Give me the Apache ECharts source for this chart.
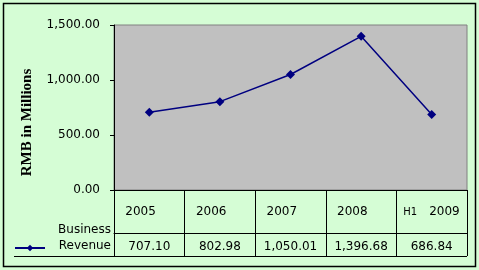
<!DOCTYPE html>
<html>
<head>
<meta charset="utf-8">
<script src="https://cdn.jsdelivr.net/npm/echarts@6/dist/echarts.min.js"></script>
<style>
html,body{margin:0;padding:0;background:#ffffff;}
#c{width:479px;height:270px;}
</style>
</head>
<body>
<div id="c"></div>
<script>
const categories = ['2005', '2006', '2007', '2008', 'H1 2009'];
const revenue = [707.10, 802.98, 1050.01, 1396.68, 686.84];
const yTicks = { min: 0, max: 1500, interval: 500 };
const seriesName = 'Business Revenue';
const yTitle = 'RMB in Millions';

const fmt = v => Number(v).toLocaleString('en-US', { minimumFractionDigits: 2, maximumFractionDigits: 2 });
const FONT = 'DejaVu Sans';

const chart = echarts.init(document.getElementById('c'), null, { renderer: 'canvas' });
chart.setOption({
  backgroundColor: '#D5FDD5',
  animation: false,
  grid: {
    left: 114, top: 25, width: 353, height: 165,
    show: true, backgroundColor: '#C0C0C0', borderColor: '#808080', borderWidth: 1
  },
  legend: {
    left: 14, top: 224, padding: 0,
    itemWidth: 30, itemHeight: 8,
    data: [seriesName],
    formatter: () => '{a|Business}\n{a|Revenue}',
    textStyle: {
      fontFamily: FONT, fontSize: 12, color: '#000', padding: [0, 0, 20, 0],
      rich: { a: { fontFamily: FONT, fontSize: 12, color: '#000', width: 61, align: 'right', lineHeight: 16 } }
    }
  },
  xAxis: [
    {
      type: 'category', data: categories, boundaryGap: true, position: 'bottom',
      axisLine: { show: true, lineStyle: { color: '#000', width: 1 } },
      axisTick: { show: true, interval: 0, length: 66, lineStyle: { color: '#000', width: 1 } },
      axisLabel: {
        interval: 0, margin: 16, color: '#000', fontFamily: FONT, fontSize: 12,
        formatter: v => v.startsWith('H1') ? '{s|H1}{b|' + v.slice(3) + '}' : '{a|' + v + '}',
        rich: {
          a: { fontFamily: FONT, fontSize: 12, color: '#000', width: 48, align: 'left' },
          s: { fontFamily: FONT, fontSize: 10, color: '#000', width: 26, align: 'left' },
          b: { fontFamily: FONT, fontSize: 12, color: '#000', width: 31, align: 'left' }
        },
        align: 'center'
      },
      splitLine: { show: false }
    },
    {
      type: 'category', data: revenue.map(fmt), boundaryGap: true, position: 'bottom', offset: 43,
      axisLine: { show: true, lineStyle: { color: '#000', width: 1 } },
      axisTick: { show: false },
      axisLabel: { interval: 0, margin: 8, color: '#000', fontFamily: FONT, fontSize: 12 },
      splitLine: { show: false }
    }
  ],
  yAxis: {
    type: 'value', min: yTicks.min, max: yTicks.max, interval: yTicks.interval,
    name: yTitle, nameLocation: 'middle', nameRotate: 90, nameGap: 79, nameMoveOverlap: false,
    nameTextStyle: { fontFamily: 'Liberation Serif', fontWeight: 'bold', fontSize: 15, color: '#000', padding: [0, 30, 0, 0] },
    axisLine: { show: true, lineStyle: { color: '#000', width: 1 } },
    axisTick: { show: true, inside: false, length: 4, lineStyle: { color: '#000' } },
    axisLabel: { margin: 14, color: '#000', fontFamily: FONT, fontSize: 12, formatter: fmt },
    splitLine: { show: false }
  },
  series: [{
    name: seriesName, type: 'line', data: revenue, xAxisIndex: 0,
    symbol: 'diamond', symbolSize: 9,
    itemStyle: { color: '#000080' },
    lineStyle: { color: '#000080', width: 1.5 }
  }],
  graphic: [
    { type: 'rect', shape: { x: 3.5, y: 3.5, width: 472, height: 263 }, style: { fill: null, stroke: '#000', lineWidth: 1.5 }, silent: true, z: 100 },
    { type: 'line', shape: { x1: 14, y1: 256.5, x2: 467, y2: 256.5 }, style: { stroke: '#000', lineWidth: 1 }, silent: true, z: 100 }
  ]
});
</script>
</body>
</html>
